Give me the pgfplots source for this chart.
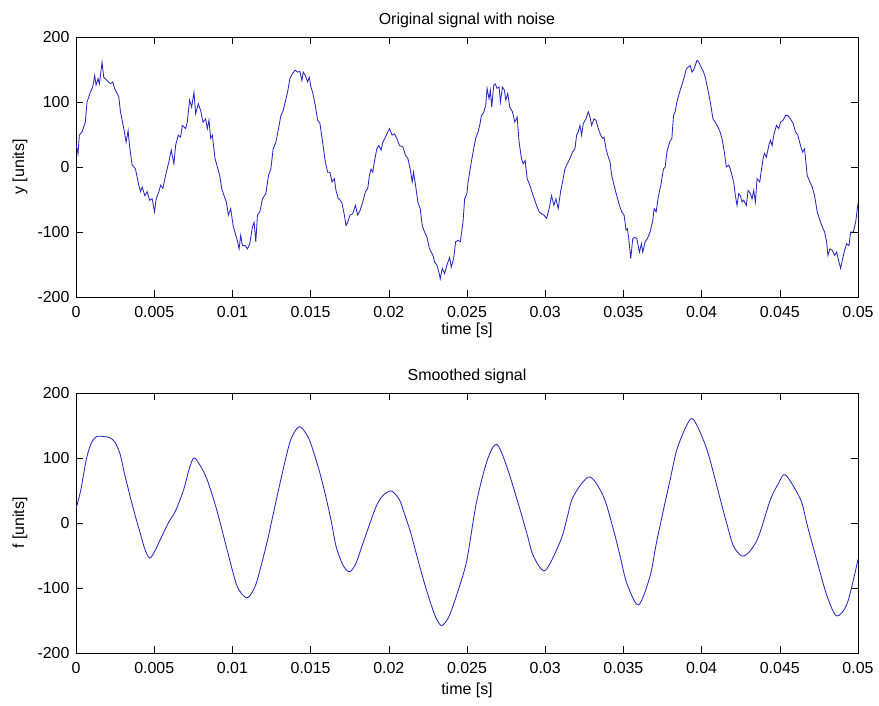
\documentclass[border=0pt]{standalone}
\usepackage{pgfplots}
\pgfplotsset{compat=1.18}
\usepackage{fontspec}
\setmainfont{Liberation Sans}
\definecolor{mblue}{RGB}{40,40,200}
\pgfplotsset{
  mstyle/.style={
    scale only axis, width=782bp, height=260bp,
    xmin=0, xmax=0.05, ymin=-200, ymax=200,
    xtick={0,0.005,0.01,0.015,0.02,0.025,0.03,0.035,0.04,0.045,0.05},
    xticklabels={0,0.005,0.01,0.015,0.02,0.025,0.03,0.035,0.04,0.045,0.05},
    scaled x ticks=false, scaled y ticks=false,
    ytick={-200,-100,0,100,200},
    yticklabels={-200,-100,0,100,200},
    tick align=inside, tick pos=both, xticklabel pos=lower, yticklabel pos=left,
    major tick length=7bp,
    every tick/.style={black, line width=0.5bp},
    axis line style={black, line width=0.6bp},
    tick label style={font=\fontsize{16}{19}\selectfont},
    label style={font=\fontsize{16}{19}\selectfont},
    title style={font=\fontsize{16}{19}\selectfont, at={(axis description cs:0.5,1.042)}, anchor=center},
    xticklabel style={yshift=-6bp},
    yticklabel style={xshift=-3bp},
    ylabel style={at={(axis description cs:-0.0716,0.5)}, anchor=center},
  }
}
\begin{document}
\begin{tikzpicture}
\useasboundingbox (-76bp,-53bp) rectangle (803bp,653bp);

% noisy signal
\begin{axis}[mstyle, at={(0,356bp)}, anchor=south west,
  title={Original signal with noise}, xlabel={time [s]}, ylabel={y [units]},
  xlabel style={at={(axis description cs:0.5,-0.128)}, anchor=center}]
\addplot[mblue, line width=0.85bp, mark=none] coordinates {
(0,36) (0.000128,20) (0.000214,49) (0.000385,54) (0.000598,69) (0.000705,100)
(0.000919,115) (0.001068,123) (0.001197,141) (0.001282,126) (0.00141,136) (0.001496,128)
(0.001667,161) (0.001774,138) (0.001987,133) (0.002201,128) (0.00235,131) (0.002479,120)
(0.002628,113) (0.002735,108) (0.002842,85) (0.003056,59) (0.003205,38) (0.003333,56)
(0.003419,33) (0.00359,3) (0.003803,-3) (0.004017,-28) (0.004124,-38) (0.004231,-31)
(0.004402,-44) (0.004551,-38) (0.004701,-51) (0.004872,-49) (0.005021,-69) (0.005128,-49)
(0.005299,-38) (0.005406,-28) (0.005556,-33) (0.005726,-13) (0.00594,8) (0.00609,26)
(0.006261,5) (0.006368,33) (0.006538,49) (0.006688,46) (0.006795,64) (0.007009,59)
(0.007115,69) (0.007265,103) (0.007393,92) (0.007543,115) (0.00765,82) (0.00782,97)
(0.00797,87) (0.00812,69) (0.00829,74) (0.008397,59) (0.008504,72) (0.008611,44)
(0.008718,49) (0.008889,13) (0.009038,0) (0.009188,-13) (0.009316,-33) (0.009466,-44)
(0.009615,-54) (0.009744,-74) (0.009893,-64) (0.010043,-90) (0.010214,-105) (0.010321,-113)
(0.010427,-126) (0.010534,-105) (0.010641,-121) (0.010812,-121) (0.010962,-126) (0.011111,-118)
(0.011282,-92) (0.011389,-85) (0.011496,-115) (0.011603,-74) (0.011752,-69) (0.011923,-49)
(0.012137,-41) (0.012308,-13) (0.012457,-3) (0.012607,28) (0.012778,38) (0.012949,59)
(0.013098,79) (0.013248,87) (0.013376,100) (0.013526,115) (0.013675,136) (0.013846,144)
(0.014017,149) (0.014167,146) (0.014316,147) (0.014444,133) (0.01453,146) (0.014658,141)
(0.014808,131) (0.014915,138) (0.015021,123) (0.015128,115) (0.015299,95) (0.015449,72)
(0.015598,67) (0.015769,38) (0.01594,8) (0.01609,-8) (0.016239,-8) (0.016368,-23)
(0.016517,-18) (0.016624,-36) (0.016774,-49) (0.016838,-49) (0.017009,-56) (0.017158,-74)
(0.017265,-90) (0.017372,-85) (0.017521,-74) (0.017692,-72) (0.017863,-59) (0.018013,-74)
(0.018162,-67) (0.018333,-54) (0.018504,-38) (0.018654,-33) (0.018761,-13) (0.018868,-3)
(0.018974,-8) (0.019081,8) (0.019231,28) (0.019359,33) (0.019509,26) (0.019615,38)
(0.019786,46) (0.019936,54) (0.020043,59) (0.020214,49) (0.020363,51) (0.020513,44)
(0.020684,33) (0.020897,31) (0.021068,18) (0.021218,13) (0.021368,-3) (0.021496,-23)
(0.021581,-8) (0.02171,-28) (0.021859,-54) (0.022009,-64) (0.022137,-90) (0.022286,-100)
(0.022436,-108) (0.022607,-126) (0.022714,-131) (0.022821,-136) (0.022927,-146) (0.023077,-151)
(0.023205,-162) (0.023291,-172) (0.023419,-156) (0.023568,-164) (0.023718,-151) (0.023889,-139)
(0.023996,-154) (0.024145,-141) (0.024274,-115) (0.024423,-113) (0.024573,-115) (0.024744,-85)
(0.02485,-49) (0.025,-40) (0.02507,-23) (0.025171,-8) (0.025278,8) (0.025427,28)
(0.025556,44) (0.025705,54) (0.025812,64) (0.025919,79) (0.026068,84) (0.026197,95)
(0.026282,121) (0.02641,105) (0.026496,118) (0.026581,92) (0.02671,126) (0.026795,128)
(0.026923,121) (0.027051,123) (0.027137,100) (0.027265,123) (0.027393,118) (0.027479,103)
(0.027607,113) (0.027735,92) (0.027906,85) (0.028056,69) (0.028205,77) (0.028333,38)
(0.028483,13) (0.02859,5) (0.028718,10) (0.028846,-18) (0.029017,-28) (0.029231,-44)
(0.029444,-59) (0.029615,-69) (0.029765,-72) (0.029915,-74) (0.030085,-79) (0.030256,-64)
(0.030406,-44) (0.030556,-59) (0.030684,-49) (0.030833,-64) (0.030983,-38) (0.031111,-23)
(0.031261,-3) (0.03141,5) (0.031581,13) (0.031752,23) (0.031902,28) (0.032009,49)
(0.032115,54) (0.032222,64) (0.032329,49) (0.032436,67) (0.032607,74) (0.032756,85)
(0.032863,77) (0.03297,64) (0.03312,74) (0.033248,72) (0.033397,59) (0.033547,49)
(0.033675,44) (0.033761,46) (0.033889,28) (0.034038,15) (0.034145,8) (0.034252,-13)
(0.034402,-28) (0.034573,-44) (0.034744,-59) (0.034893,-69) (0.035043,-74) (0.035171,-97)
(0.035256,-95) (0.035342,-110) (0.03547,-141) (0.035598,-110) (0.035726,-108) (0.035855,-110)
(0.036026,-131) (0.036154,-118) (0.036239,-131) (0.036389,-115) (0.036538,-110) (0.036709,-100)
(0.03688,-82) (0.036966,-64) (0.037094,-69) (0.037244,-44) (0.037393,-28) (0.037564,-3)
(0.037671,0) (0.037778,23) (0.037949,38) (0.038098,44) (0.038205,79) (0.038312,85)
(0.038419,100) (0.03859,115) (0.03874,126) (0.038889,138) (0.039017,151) (0.039167,154)
(0.039274,156) (0.039381,146) (0.039487,149) (0.039594,156) (0.039701,164) (0.039808,162)
(0.039957,154) (0.040128,146) (0.040235,138) (0.040385,121) (0.040556,100) (0.040726,74)
(0.040876,69) (0.041026,62) (0.041154,56) (0.041303,44) (0.041453,23) (0.041581,0)
(0.04173,3) (0.041838,-3) (0.041944,-13) (0.042051,-23) (0.042158,-44) (0.042265,-59)
(0.042372,-41) (0.042479,-44) (0.042585,-54) (0.042692,-51) (0.042863,-59) (0.04297,-36)
(0.04312,-41) (0.043226,-49) (0.043333,-36) (0.04344,-54) (0.043547,-18) (0.043718,-23)
(0.043803,-8) (0.043932,13) (0.044017,21) (0.044145,15) (0.044295,33) (0.044402,41)
(0.044509,33) (0.044615,49) (0.044786,64) (0.044936,59) (0.045043,69) (0.045214,72)
(0.045363,79) (0.045513,79) (0.045684,74) (0.045855,67) (0.046004,54) (0.046154,49)
(0.046325,33) (0.046453,23) (0.046581,28) (0.046667,8) (0.046752,-13) (0.046923,-23)
(0.047073,-31) (0.047222,-44) (0.047393,-69) (0.047564,-82) (0.047714,-92) (0.047863,-100)
(0.047991,-115) (0.048077,-136) (0.048205,-126) (0.048355,-128) (0.048504,-136) (0.048632,-131)
(0.048782,-146) (0.048889,-156) (0.049017,-141) (0.049145,-128) (0.049274,-118) (0.049423,-121)
(0.04953,-100) (0.049701,-100) (0.04985,-85) (0.05,-56)
};
\end{axis}

% smoothed signal
\begin{axis}[mstyle, at={(0,0)}, anchor=south west,
  title={Smoothed signal}, xlabel={time [s]}, ylabel={f [units]},
  xlabel style={at={(axis description cs:0.5,-0.142)}, anchor=center}]
\addplot[mblue, line width=0.85bp, mark=none, smooth] coordinates {
(0,22) (0.0003,50) (0.00068,100) (0.001,124) (0.00132,133) (0.0018,133)
(0.00218,131) (0.0025,124) (0.00282,106) (0.0031,76) (0.00346,41) (0.0038,10)
(0.0041,-15) (0.0044,-40) (0.0047,-54) (0.005,-45) (0.00538,-26) (0.0059,0)
(0.00635,18) (0.00688,51) (0.0072,80) (0.00752,100) (0.0079,90) (0.00838,67)
(0.009,20) (0.00966,-41) (0.0103,-97) (0.0109,-115) (0.0113,-105) (0.0116,-87)
(0.0122,-31) (0.01265,18) (0.0131,67) (0.0137,126) (0.01425,148) (0.0147,138)
(0.015,123) (0.0155,85) (0.0159,48) (0.0163,5) (0.01665,-38) (0.0171,-66)
(0.0175,-75) (0.0179,-62) (0.01835,-31) (0.0192,26) (0.0197,44) (0.0202,49)
(0.0207,35) (0.02092,20) (0.0214,-15) (0.0218,-51) (0.0222,-86) (0.0226,-118)
(0.0230,-145) (0.02338,-158) (0.0238,-146) (0.0241,-128) (0.02455,-95) (0.025,-56)
(0.0256,31) (0.0263,97) (0.0269,121) (0.02754,87) (0.0284,20) (0.02885,-18)
(0.02925,-51) (0.03,-73) (0.031,-26) (0.0314,8) (0.0318,41) (0.03282,71)
(0.03372,41) (0.03436,-10) (0.0348,-52) (0.03521,-92) (0.03596,-126) (0.0367,-82)
(0.0371,-32) (0.03756,20) (0.038,68) (0.03842,113) (0.03906,151) (0.03949,159)
(0.04034,113) (0.0412,36) (0.0416,0) (0.04205,-36) (0.0427,-51) (0.04355,-26)
(0.0444,36) (0.0449,60) (0.04536,74) (0.04633,36) (0.04675,-3) (0.04718,-41)
(0.0476,-78) (0.04803,-113) (0.04863,-143) (0.04932,-123) (0.05,-56)
};
\end{axis}
\end{tikzpicture}
\end{document}
